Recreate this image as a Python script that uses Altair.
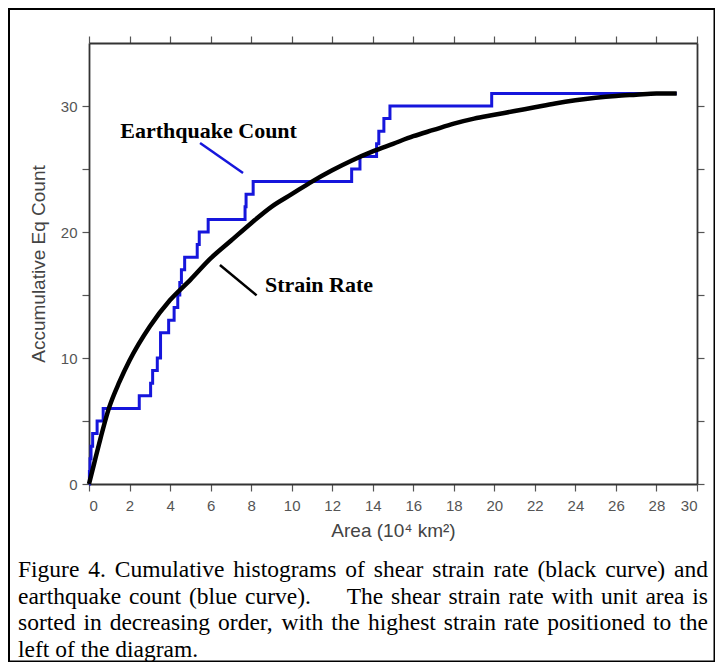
import altair as alt
import pandas as pd

# ---- data ----
strain_area = [0, 0.25, 0.5, 1, 1.5, 2, 3, 4, 5, 6, 7, 8, 9, 10, 11, 12, 13, 14, 15,
               16, 17, 18, 19, 20, 21, 22, 23, 24, 25, 26, 27, 28, 29]
strain_count = [0, 1.6, 3.2, 6.1, 8.1, 9.8, 12.5, 14.6, 16.2, 17.9, 19.3, 20.7, 22.0,
                23.0, 24.0, 24.9, 25.7, 26.4, 27.0, 27.6, 28.1, 28.6, 29.0, 29.3, 29.6,
                29.9, 30.2, 30.45, 30.65, 30.8, 30.9, 31.0, 31.0]

eq_area = [0.00, 0.02, 0.05, 0.10, 0.18, 0.40, 0.70, 2.48, 3.04, 3.14, 3.37, 3.53,
           3.93, 4.20, 4.38, 4.48, 4.56, 4.72, 5.34, 5.44, 5.88, 7.70, 7.75, 8.10,
           12.96, 13.37, 14.19, 14.30, 14.55, 14.85, 19.87, 29.0]
eq_count = [0, 1, 2, 3, 4, 5, 6, 7, 8, 9, 10, 12,
            13, 14, 15, 16, 17, 18, 19, 20, 21, 22, 23, 24,
            25, 26, 27, 28, 29, 30, 31, 31]

eq_label = "Earthquake Count"
eq_label_area, eq_label_count = 10.26, 27.45
strain_label = "Strain Rate"
strain_label_area, strain_label_count = 8.68, 15.2

eq_leader = [5.48, 27.06, 7.60, 24.68]
strain_leader = [6.46, 17.38, 8.27, 14.97]

x_ticks = list(range(0, 31, 2))
y_ticks = list(range(0, 31, 5))

caption_lines = [
    "Figure 4. Cumulative histograms of shear strain rate (black curve) and",
    "earthquake count (blue curve).  The shear strain rate with unit area is",
    "sorted in decreasing order, with the highest strain rate positioned to the",
    "left of the diagram.",
]
caption_justified = [True, True, True, False]

# ---- layout helpers (text metrics of Times / Liberation Serif, per 1000 em) ----
W, H = 608, 441
BLUE = "#1616dc"
CAP_SIZE = 23.5
CAP_LEFT, CAP_RIGHT = -71, 619
CAP_TOP, CAP_STEP = 527, 26.5

_w = {" ": 250, "(": 333, ")": 333, ",": 250, ".": 250, "-": 333}
_w.update({d: 500 for d in "0123456789"})
_w.update(dict(zip("ABCDEFGHIJKLMNOPQRSTUVWXYZ",
                   [722, 667, 667, 722, 611, 556, 722, 722, 333, 389, 722, 611, 889,
                    722, 722, 556, 722, 667, 556, 611, 722, 722, 944, 722, 722, 611])))
_w.update(dict(zip("abcdefghijklmnopqrstuvwxyz",
                   [444, 500, 444, 500, 444, 333, 500, 500, 278, 278, 500, 278, 778,
                    500, 500, 500, 500, 333, 389, 278, 500, 500, 722, 500, 500, 444])))


def tw(s):
    return sum(_w.get(c, 500) for c in s) * CAP_SIZE / 1000.0


rows = []
for i, (line, just) in enumerate(zip(caption_lines, caption_justified)):
    groups = line.split("  ")
    words = []
    extra = []
    for g_i, g in enumerate(groups):
        ws = g.split(" ")
        for k, wd in enumerate(ws):
            words.append(wd)
            extra.append(1 if (k == 0 and g_i > 0) else 0)
    space = tw(" ")
    natural = sum(tw(wd) for wd in words)
    n_gaps = len(words) - 1
    big = 28.0
    if just and n_gaps > 0:
        gap = (CAP_RIGHT - CAP_LEFT - natural - big * sum(extra)) / n_gaps
        gap = max(gap, space)
    else:
        gap = space
    x = CAP_LEFT
    for k, wd in enumerate(words):
        if k > 0:
            x += gap + big * extra[k]
        rows.append({"px": x, "py": CAP_TOP + i * CAP_STEP, "word": wd})
        x += tw(wd)
caption_df = pd.DataFrame(rows)

# ---- chart ----
strain = pd.DataFrame({"area": strain_area, "count": strain_count})
eq = pd.DataFrame({"area": eq_area, "count": eq_count})

xscale = alt.Scale(domain=[0, 30], nice=False, zero=False)
yscale = alt.Scale(domain=[0, 35], nice=False, zero=False)

ax = dict(domainColor="#333333", domainWidth=1.8, tickColor="#555555", tickWidth=1.2,
          tickSize=7, labelFont="Liberation Sans", labelFontSize=15, labelColor="#555555",
          titleFont="Liberation Sans", titleFontSize=19, titleColor="#444444",
          titleFontWeight="normal", grid=False)

eq_line = alt.Chart(eq).mark_line(interpolate="step-after", color=BLUE,
                                  strokeWidth=3).encode(
    x=alt.X("area:Q", scale=xscale,
            axis=alt.Axis(orient="bottom", values=x_ticks, title="Area (10⁴ km²)",
                          labelPadding=7, titlePadding=8, **ax)),
    y=alt.Y("count:Q", scale=yscale,
            axis=alt.Axis(orient="left", values=y_ticks,
                          labelExpr="datum.value % 10 == 0 ? datum.label : ''",
                          title="Accumulative Eq Count", labelPadding=5,
                          titlePadding=12, **ax)),
)

strain_line = alt.Chart(strain).mark_line(interpolate="monotone", color="black",
                                          strokeWidth=4.5).encode(
    x=alt.X("area:Q", scale=xscale,
            axis=alt.Axis(orient="top", values=x_ticks, labels=False, title=None, **ax)),
    y=alt.Y("count:Q", scale=yscale,
            axis=alt.Axis(orient="right", values=y_ticks, labels=False, title=None, **ax)),
)


def leader(vals, color):
    df = pd.DataFrame({"area": [vals[0]], "count": [vals[1]],
                       "area2": [vals[2]], "count2": [vals[3]]})
    return alt.Chart(df).mark_rule(strokeWidth=2.5, color=color).encode(
        x=alt.X("area:Q", scale=xscale, axis=None),
        y=alt.Y("count:Q", scale=yscale, axis=None),
        x2="area2:Q", y2="count2:Q")


def label(text, a, c, align):
    df = pd.DataFrame({"area": [a], "count": [c], "text": [text]})
    return alt.Chart(df).mark_text(font="Liberation Serif", fontSize=22,
                                   fontWeight="bold", baseline="alphabetic",
                                   align=align, color="black").encode(
        x=alt.X("area:Q", scale=xscale, axis=None),
        y=alt.Y("count:Q", scale=yscale, axis=None),
        text="text:N")


border = alt.Chart(pd.DataFrame({"a": [0]})).mark_rect(
    fillOpacity=0, stroke="black", strokeWidth=2).encode(
    x=alt.value(-80), x2=alt.value(W + 17.5), y=alt.value(-34), y2=alt.value(H + 177.5),
)

caption = alt.Chart(caption_df).mark_text(
    font="Liberation Serif", fontSize=CAP_SIZE, align="left", baseline="middle",
    color="black").encode(
    x=alt.X("px:Q", scale=alt.Scale(domain=[0, W], range=[0, W], nice=False, zero=False),
            axis=None),
    y=alt.Y("py:Q", scale=alt.Scale(domain=[0, H], range=[0, H], nice=False, zero=False),
            axis=None),
    text="word:N",
)

chart = alt.layer(
    eq_line, strain_line,
    leader(eq_leader, BLUE), leader(strain_leader, "black"),
    label(eq_label, eq_label_area, eq_label_count, "right"),
    label(strain_label, strain_label_area, strain_label_count, "left"),
    border, caption
).resolve_axis(x="independent", y="independent").resolve_scale(
    x="independent", y="independent").properties(
    width=W, height=H, autosize="none",
    padding={"left": 81, "top": 35, "right": 18, "bottom": 178},
).configure_view(stroke=None)

chart.save("out.html", embed_options={"renderer": "svg", "actions": False})
